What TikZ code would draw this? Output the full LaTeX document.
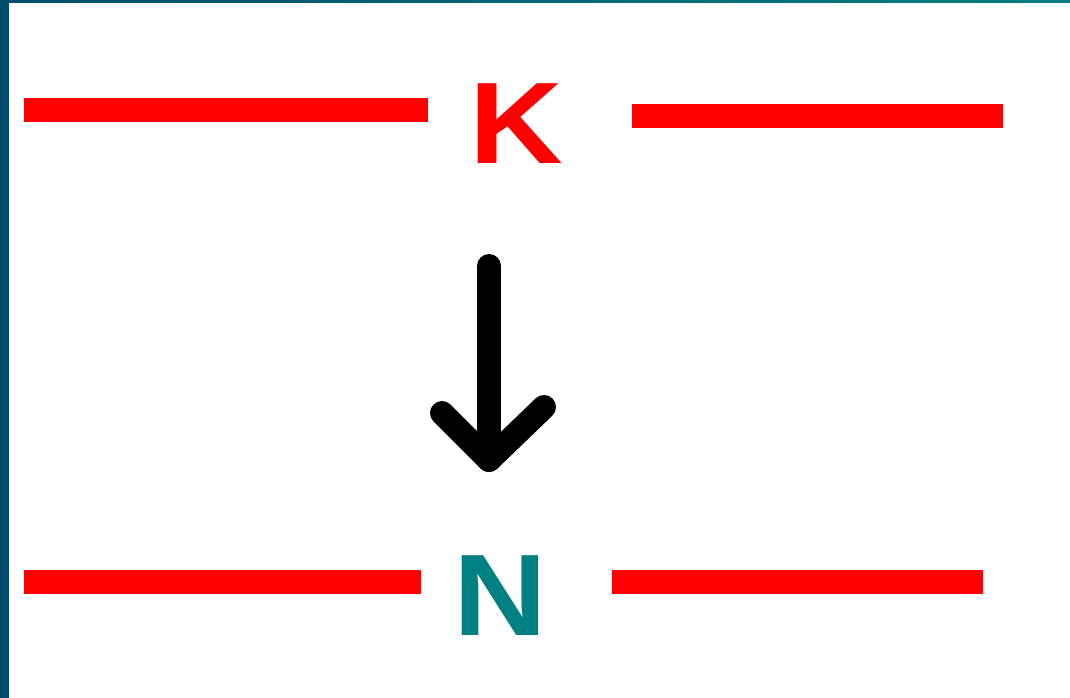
\documentclass[tikz,border=0pt]{standalone}
\usepackage{fontspec}
\newfontfamily\letterfont[FakeStretch=1.12]{Liberation Sans Bold}
\usetikzlibrary{positioning}
\definecolor{frameblue}{HTML}{004C6E}
\definecolor{frameteal}{HTML}{007F7F}
\definecolor{barred}{HTML}{FF0000}
\definecolor{letterteal}{HTML}{008080}

\begin{document}
\begin{tikzpicture}[
    x=1pt, y=-1pt,
    bar/.style={draw=barred, line width=24pt},
    letter/.style={inner sep=0pt, anchor=base, font=\letterfont\fontsize{116}{116}\selectfont},
    shaft/.style={draw=black, line width=24pt, line cap=round, line join=round}
]
    \useasboundingbox (0,0) rectangle (1070,698);
    \fill[white] (0,0) rectangle (1070,698);

    % frame edges
    \fill[left color=frameblue, right color=frameteal] (0,0) rectangle (1070,3);
    \fill[frameblue] (0,0) rectangle (9,698);

    % letters
    \node[letter, text=barred] (K) at (516,163) {K};
    \node[letter, text=letterteal] (N) at (500,635) {N};

    % red bars
    \draw[bar] (24,110) -- (428,110);
    \draw[bar] (632,116) -- (1003,116);
    \draw[bar] (24,582) -- (421,582);
    \draw[bar] (612,582) -- (983,582);

    % down arrow
    \coordinate (arrowtop) at (489,266);
    \coordinate (arrowtip) at (489,460);
    \draw[shaft] (arrowtop) -- (arrowtip);
    \draw[shaft] ([shift={(-47,-47)}]arrowtip) -- (arrowtip) -- ([shift={(55,-53)}]arrowtip);

\end{tikzpicture}
\end{document}
